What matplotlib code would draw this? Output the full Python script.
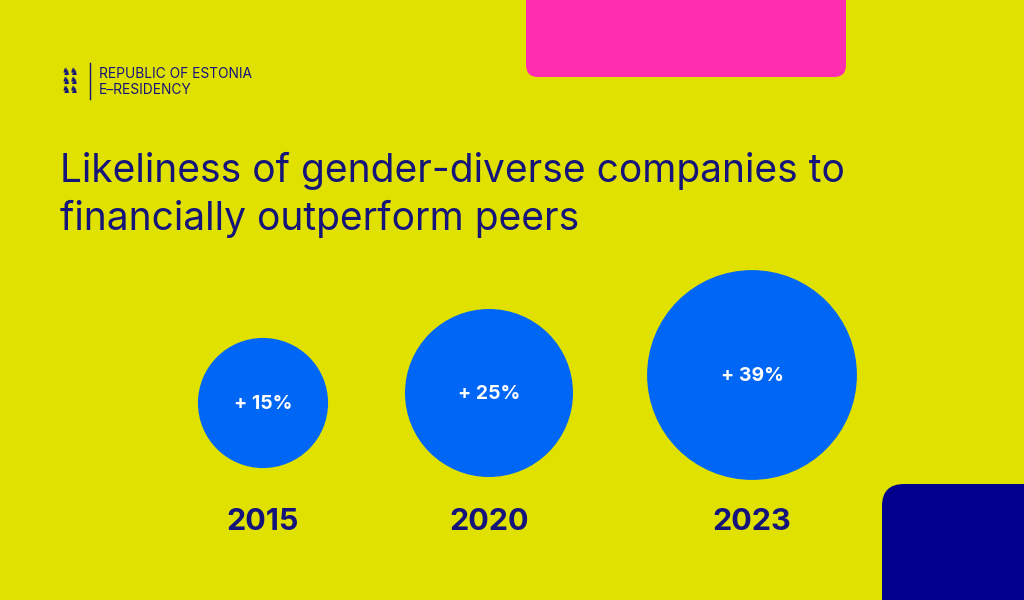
import matplotlib
matplotlib.use("Agg")
import matplotlib.pyplot as plt
from matplotlib.patches import Circle, FancyBboxPatch
import numpy as np

years = ["2015", "2020", "2023"]
values = [15, 25, 39]
labels = ["+ 15%", "+ 25%", "+ 39%"]
cx = [263, 489, 752]
cy = [403, 393, 375]

BG = "#E1E100"; NAVY = "#14147A"
fig = plt.figure(figsize=(10.24, 6), dpi=100, facecolor=BG)
ax = fig.add_axes([0, 0, 1, 1]); ax.set_xlim(0, 1024); ax.set_ylim(600, 0); ax.axis("off")
ax.set_facecolor(BG)

ax.add_patch(FancyBboxPatch((526, -30), 320, 107, boxstyle="round,pad=0,rounding_size=12", fc="#FF2DAF", ec="none"))
ax.add_patch(FancyBboxPatch((882, 484), 180, 150, boxstyle="round,pad=0,rounding_size=22", fc="#00008C", ec="none"))

for x, y, v, l, yr in zip(cx, cy, values, labels, years):
    r = 16.8 * np.sqrt(v)
    ax.add_patch(Circle((x, y), r, fc="#0066F5", ec="none"))
    ax.text(x, y + 1, l, color="white", fontsize=14, fontweight="bold", family="Inter", ha="center", va="center")
    ax.text(x, 522, yr, color=NAVY, fontsize=22, fontweight="bold", family="Inter", ha="center", va="center")

ax.text(60, 195, "Likeliness of gender-diverse companies to\nfinancially outperform peers", color=NAVY,
        fontsize=28, family="Inter", ha="left", va="center", linespacing=1.3)

# logo
for i in range(3):
    ax.text(70, 72 + i * 9, "\u265e\u265e", fontsize=7, color=NAVY, ha="center", va="center", family="DejaVu Sans")
ax.plot([90, 90], [63, 99], color=NAVY, lw=1)
ax.text(99, 74, "REPUBLIC OF ESTONIA", color=NAVY, fontsize=9.9, family="Inter", va="center")
ax.text(99, 90, "E–RESIDENCY", color=NAVY, fontsize=9.9, family="Inter", va="center")

fig.savefig("out.png", dpi=100, facecolor=BG)
